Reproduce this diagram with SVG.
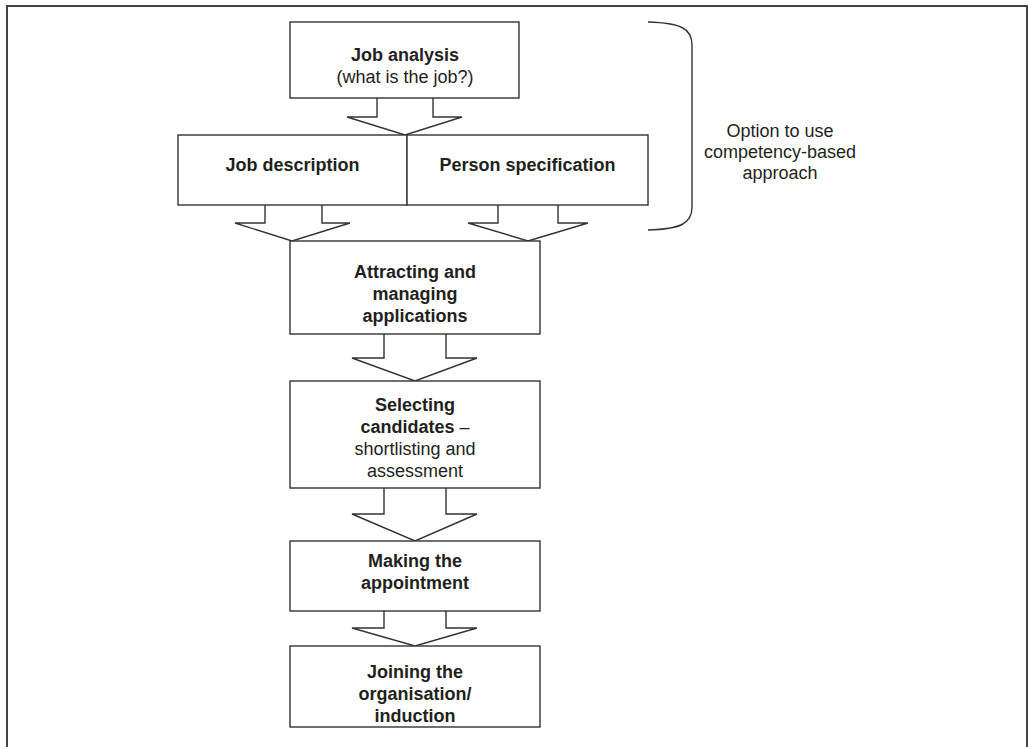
<svg xmlns="http://www.w3.org/2000/svg" width="1028" height="747" viewBox="0 0 1028 747">
<style>
.box{fill:#fff;stroke:#333;stroke-width:1.4}
.arr{fill:#fff;stroke:#333;stroke-width:1.4;stroke-linejoin:miter}
text{font-family:"Liberation Sans",Arial,sans-serif;font-size:18px;fill:#231f20;text-anchor:middle}
.b{font-weight:bold}
</style>
<rect width="1028" height="747" fill="#fff"/>
<path d="M7,747 V6 H1027 V747" fill="none" stroke="#444" stroke-width="2"/>
<g id="connectors">
<polyline class="arr" points="377,98 377,117 347,117 405,135 462,117 433,117 433,98"/>
<polyline class="arr" points="265,205 265,223 235,223 292,241 350,223 322,223 322,205"/>
<polyline class="arr" points="498,205 498,223 468,223 528,241 588,223 558,223 558,205"/>
<polyline class="arr" points="384,334 384,358 352,358 415,381 477,358 446,358 446,334"/>
<polyline class="arr" points="384,488 384,514 352,514 415,541 477,514 446,514 446,488"/>
<polyline class="arr" points="384,611 384,628 352,628 415,646 477,628 446,628 446,611"/>
</g>
<g id="job-analysis">
<rect class="box" x="290" y="22" width="229" height="76"/>
<text class="b" x="405" y="61">Job analysis</text>
<text x="405" y="83">(what is the job?)</text>
</g>
<g id="job-description">
<rect class="box" x="178" y="135" width="229" height="70"/>
<text class="b" x="292.5" y="171">Job description</text>
</g>
<g id="person-specification">
<rect class="box" x="407" y="135" width="241" height="70"/>
<text class="b" x="527.5" y="171">Person specification</text>
</g>
<g id="attracting">
<rect class="box" x="290" y="241" width="250" height="93"/>
<text class="b" x="415" y="278">Attracting and</text>
<text class="b" x="415" y="300">managing</text>
<text class="b" x="415" y="322">applications</text>
</g>
<g id="selecting">
<rect class="box" x="290" y="381" width="250" height="107"/>
<text class="b" x="415" y="411">Selecting</text>
<text x="415" y="433"><tspan class="b">candidates</tspan> –</text>
<text x="415" y="455">shortlisting and</text>
<text x="415" y="477">assessment</text>
</g>
<g id="making">
<rect class="box" x="290" y="541" width="250" height="70"/>
<text class="b" x="415" y="567">Making the</text>
<text class="b" x="415" y="589">appointment</text>
</g>
<g id="joining">
<rect class="box" x="290" y="646" width="250" height="81"/>
<text class="b" x="415" y="678">Joining the</text>
<text class="b" x="415" y="700">organisation/</text>
<text class="b" x="415" y="722">induction</text>
</g>
<g id="bracket">
<path d="M648,22 C680,23 692,28 692,45 V207 C692,224 680,229 648,230" fill="none" stroke="#333" stroke-width="1.4"/>
<text x="780" y="137">Option to use</text>
<text x="780" y="158">competency-based</text>
<text x="780" y="179">approach</text>
</g>
</svg>
